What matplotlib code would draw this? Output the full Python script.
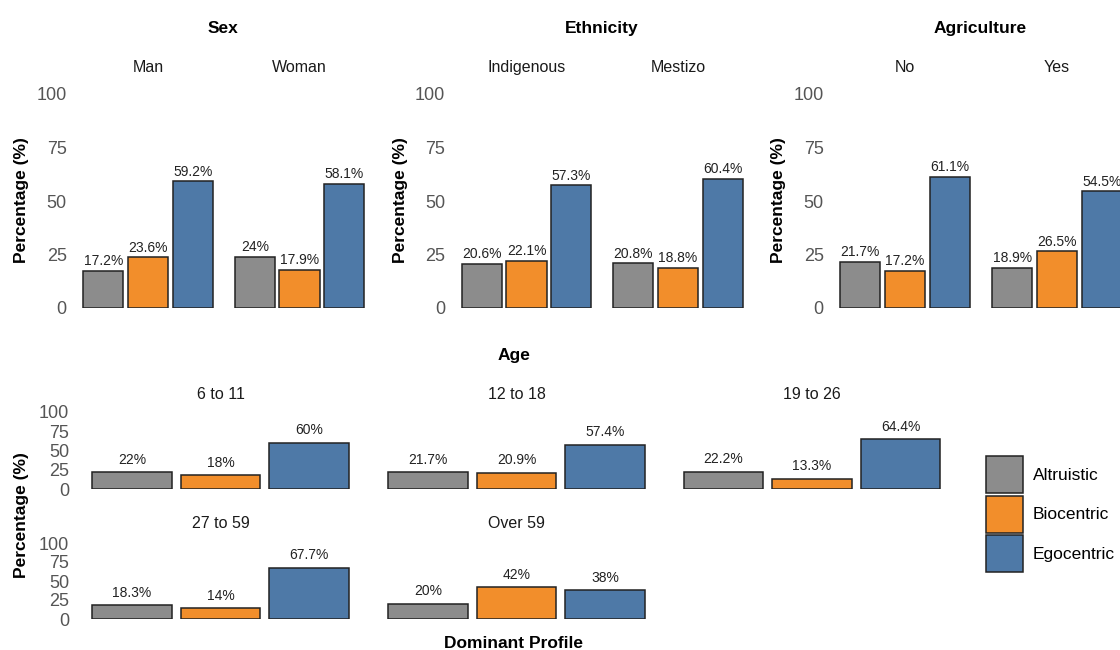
import matplotlib
matplotlib.use("Agg")
import matplotlib.pyplot as plt
from matplotlib.patches import Patch

plt.rcParams['font.family'] = ['Liberation Sans', 'DejaVu Sans']

# data
profiles = ['Altruistic', 'Biocentric', 'Egocentric']
profile_colors = ['#8C8C8C', '#F28E2B', '#4E79A7']

sex_levels = ['Man', 'Woman']
sex_values = [[17.2, 23.6, 59.2], [24, 17.9, 58.1]]

ethnicity_levels = ['Indigenous', 'Mestizo']
ethnicity_values = [[20.6, 22.1, 57.3], [20.8, 18.8, 60.4]]

agriculture_levels = ['No', 'Yes']
agriculture_values = [[21.7, 17.2, 61.1], [18.9, 26.5, 54.5]]

age_levels = ['6 to 11', '12 to 18', '19 to 26', '27 to 59', 'Over 59']
age_values = [[22, 18, 60], [21.7, 20.9, 57.4], [22.2, 13.3, 64.4],
              [18.3, 14, 67.7], [20, 42, 38]]

yticks = [0, 25, 50, 75, 100]

W, H = 1120, 650
fig = plt.figure(figsize=(W / 100, H / 100), dpi=100)

tick_col = '#555555'
strip_col = '#1A1A1A'


def px_axes(l, t, r, b):
    return fig.add_axes([l / W, 1 - b / H, (r - l) / W, (b - t) / H])


def px_text(x, y, s, **kw):
    kw.setdefault('va', 'center_baseline')
    fig.text(x / W, 1 - y / H, s, ha='center', **kw)


def facet(l, t, r, b, vals, show_y, lab_off):
    ax = px_axes(l, t, r, b)
    xs = range(len(profiles))
    bars = ax.bar([x + 1 for x in xs], vals, width=0.9, color=profile_colors,
                  edgecolor='#222222', linewidth=1.1)
    for bar, v in zip(bars, vals):
        ax.annotate(f"{v:g}%", (bar.get_x() + bar.get_width() / 2, bar.get_height()),
                    xytext=(0, lab_off), textcoords='offset points',
                    ha='center', va='bottom', fontsize=10, color='#222222',
                    annotation_clip=False)
    ax.set_xlim(0.4, 3.6)
    ax.set_ylim(0, 100)
    for s in ax.spines.values():
        s.set_visible(False)
    ax.set_xticks([])
    ax.patch.set_alpha(0)
    if show_y:
        ax.set_yticks(yticks)
        ax.tick_params(axis='y', length=0, pad=7, labelsize=13, labelcolor=tick_col)
    else:
        ax.set_yticks([])
    return ax


# top row: Sex, Ethnicity, Agriculture
top_groups = [
    ('Sex', sex_levels, sex_values, [148, 299.5]),
    ('Ethnicity', ethnicity_levels, ethnicity_values, [526.5, 678]),
    ('Agriculture', agriculture_levels, agriculture_values, [905, 1057]),
]
pw_top = 143
for title, levels, values, centers in top_groups:
    px_text(sum(centers) / 2 - 0.5, 27, title, fontsize=12.5, fontweight='bold', color='black')
    for i, (lev, vals, cx) in enumerate(zip(levels, values, centers)):
        facet(cx - pw_top / 2, 94, cx + pw_top / 2, 308, vals, i == 0, 2)
        px_text(cx, 66, lev, fontsize=11.5, color=strip_col)
    px_text(centers[0] - 126, 200, 'Percentage (%)', fontsize=12.5, fontweight='bold',
            rotation=90, color='black', va='center')

# bottom: Age
px_text(514, 354, 'Age', fontsize=12.5, fontweight='bold', color='black')
age_centers = [220.5, 516.5, 812]
row_tops = [(412, 489, 393), (543, 619, 522)]
pw_bot = 283.5
for k, (lev, vals) in enumerate(zip(age_levels, age_values)):
    r, c = divmod(k, 3)
    t, b, ly = row_tops[r]
    cx = age_centers[c]
    facet(cx - pw_bot / 2, t, cx + pw_bot / 2, b, vals, c == 0, 4)
    px_text(cx, ly, lev, fontsize=11.5, color=strip_col)

px_text(22, 515, 'Percentage (%)', fontsize=12.5, fontweight='bold', rotation=90,
        color='black', va='center')
px_text(514, 642, 'Dominant Profile', fontsize=12.5, fontweight='bold', color='black')

handles = [Patch(facecolor=c, edgecolor='#222222', linewidth=1.1) for c in profile_colors]
fs = 12.5
key_pt = 37 * 72 / 100
hh = (key_pt / fs - 0.245) / 0.65
fig.legend(handles, profiles, loc='upper left', bbox_to_anchor=(986 / W, 1 - 456 / H),
           frameon=False, fontsize=fs, handlelength=key_pt / fs, handleheight=hh,
           labelspacing=0.15, handletextpad=0.55, borderpad=0, borderaxespad=0)

fig.savefig('out.png', dpi=100)
